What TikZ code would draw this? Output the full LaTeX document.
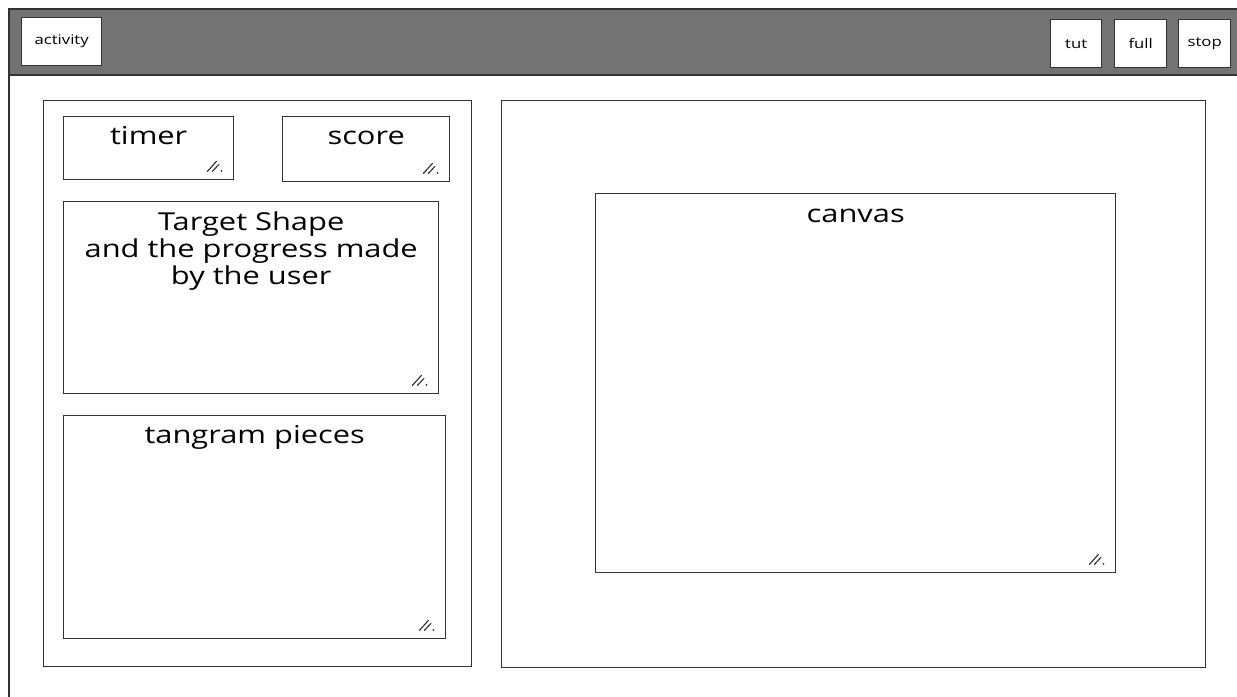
\documentclass[tikz,border=0pt]{standalone}
\usepackage{fontspec}
\setmainfont[FakeStretch=1.25]{Open Sans}
\usetikzlibrary{positioning}

\definecolor{barfill}{HTML}{737373}
\definecolor{edge}{HTML}{333333}

% resize mark in the lower right corner of a box
\newcommand{\grip}[1]{%
  \draw[grip] ([shift={(-27,-9)}]#1.south east) -- ++(9,-10);
  \draw[grip] ([shift={(-22,-9)}]#1.south east) -- ++(6.5,-7);
  \fill[edge] ([shift={(-13,-9.5)}]#1.south east) circle (0.75pt);}

\begin{document}
\begin{tikzpicture}[x=0.75pt,y=-0.75pt,
    frame/.style={draw=edge, line width=1.05pt, fill=white, inner sep=0pt, anchor=north west},
    btn/.style={frame, font=\fontsize{10}{12}\selectfont},
    title/.style={anchor=base, inner sep=0pt, align=center, font=\fontsize{18.5}{20.25}\selectfont},
    grip/.style={draw=edge, line width=0.85pt, line cap=round}]
  \useasboundingbox (0,0) rectangle (1237,696);
  \clip (0,0) rectangle (1237,696);

  % window and top bar
  \node[frame, line width=1.2pt, minimum width=1260*0.75pt, minimum height=720*0.75pt] (window) at (8,8) {};
  \node[frame, line width=1.2pt, fill=barfill, minimum width=1260*0.75pt, minimum height=66*0.75pt] (bar) at (8,8) {};

  % buttons
  \node[btn, minimum width=80*0.75pt, minimum height=48*0.75pt] (activity) at (21,17) {activity};
  \node[btn, minimum width=51*0.75pt, minimum height=48*0.75pt] (tut) at (1050,19) {tut};
  \node[btn, minimum width=52*0.75pt, minimum height=48*0.75pt] (full) at (1114,19) {full};
  \node[btn, minimum width=52*0.75pt, minimum height=48*0.75pt] (stop) at (1178,19) {stop};

  % panels
  \node[frame, minimum width=428*0.75pt, minimum height=566*0.75pt] (left) at (43,100) {};
  \node[frame, minimum width=704*0.75pt, minimum height=567*0.75pt] (right) at (501,100) {};

  % boxes of the left panel
  \node[frame, minimum width=170*0.75pt, minimum height=63*0.75pt] (timer) at (63,116) {};
  \node[frame, minimum width=167*0.75pt, minimum height=65*0.75pt] (score) at (282,116) {};
  \node[frame, minimum width=375*0.75pt, minimum height=192*0.75pt] (target) at (63,201) {};
  \node[frame, minimum width=382*0.75pt, minimum height=223*0.75pt] (pieces) at (63,415) {};

  % canvas
  \node[frame, minimum width=520*0.75pt, minimum height=379*0.75pt] (canvas) at (595,193) {};

  % labels
  \node[title] (timertext) at ([yshift=-21pt]timer.north) {timer};
  \node[title] (scoretext) at ([yshift=-21pt]score.north) {score};
  \node[title, anchor=north] (targettext) at ([yshift=-7.5pt]target.north) {Target Shape\\and the progress made\\by the user};
  \node[title] (piecestext) at ([yshift=-21pt]pieces.north) {tangram pieces};
  \node[title] (canvastext) at ([yshift=-22pt]canvas.north) {canvas};

  \grip{timer}
  \grip{score}
  \grip{target}
  \grip{pieces}
  \grip{canvas}
\end{tikzpicture}
\end{document}
